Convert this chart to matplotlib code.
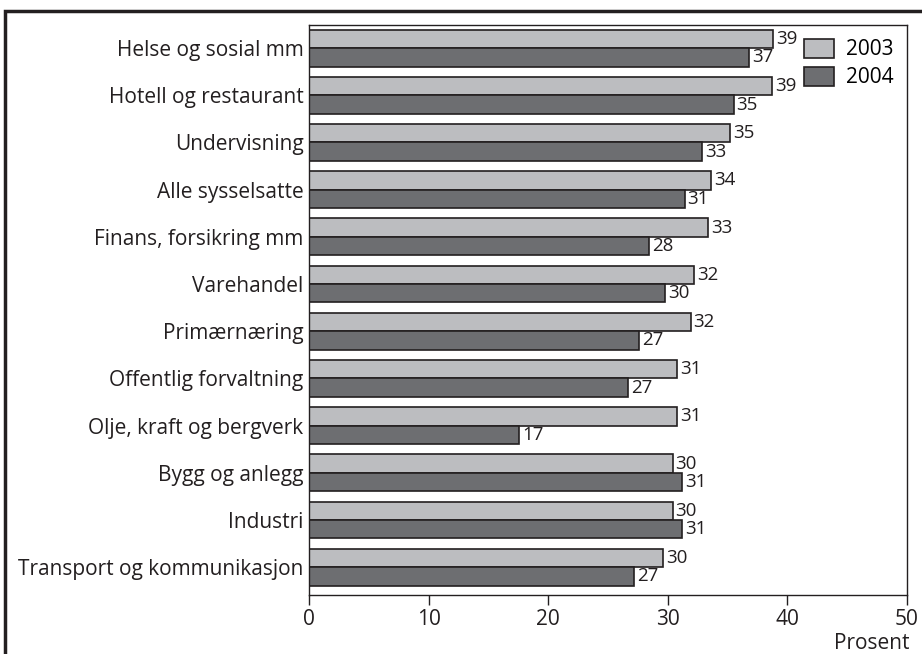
import matplotlib.pyplot as plt
import numpy as np
from matplotlib.patches import Rectangle

plt.rcParams['font.family'] = ['Open Sans', 'DejaVu Sans']

categories = ['Helse og sosial mm', 'Hotell og restaurant', 'Undervisning',
              'Alle sysselsatte', 'Finans, forsikring mm', 'Varehandel',
              'Primærnæring', 'Offentlig forvaltning', 'Olje, kraft og bergverk',
              'Bygg og anlegg', 'Industri', 'Transport og kommunikasjon']
v2003 = [38.8, 38.7, 35.2, 33.6, 33.4, 32.2, 31.9, 30.8, 30.8, 30.4, 30.4, 29.6]
v2004 = [36.8, 35.5, 32.9, 31.4, 28.4, 29.8, 27.6, 26.7, 17.6, 31.2, 31.2, 27.2]
lab2003 = [39, 39, 35, 34, 33, 32, 32, 31, 31, 30, 30, 30]
lab2004 = [37, 35, 33, 31, 28, 30, 27, 27, 17, 31, 31, 27]

c03 = '#bcbdc0'
c04 = '#6d6e71'
edge = '#231f20'

fig = plt.figure(figsize=(9.22, 6.54), dpi=100)
ax = fig.add_axes([309 / 922, 1 - 595 / 654, 598 / 922, 570 / 654])

y = np.arange(len(categories))
h = 0.39
ax.barh(y - h / 2, v2003, height=h, color=c03, edgecolor=edge, linewidth=1.2, label='2003')
ax.barh(y + h / 2, v2004, height=h, color=c04, edgecolor=edge, linewidth=1.2, label='2004')

for yy, v, l in zip(y - h / 2, v2003, lab2003):
    ax.text(v + 0.25, yy, str(l), va='center', ha='left', fontsize=13.5, color=edge)
for yy, v, l in zip(y + h / 2, v2004, lab2004):
    ax.text(v + 0.25, yy, str(l), va='center', ha='left', fontsize=13.5, color=edge)

ax.set_xlim(0, 50)
ax.set_ylim(11.59, -0.49)
ax.set_yticks(y)
ax.set_yticklabels(categories, fontsize=15, color=edge)
ax.tick_params(axis='y', length=0, pad=4)
ax.set_xticks([0, 10, 20, 30, 40, 50])
ax.tick_params(axis='x', length=7, width=1, color=edge, labelsize=15,
               labelcolor=edge, pad=3)
for s in ax.spines.values():
    s.set_color(edge)
    s.set_linewidth(1)

ax.text(1.005, -0.066, 'Prosent', transform=ax.transAxes, ha='right', va='top',
        fontsize=15, color=edge)

ax.legend(loc='upper right', bbox_to_anchor=(1.0, 1.0), frameon=False,
          fontsize=15, handlelength=1.45, handleheight=1.05,
          handletextpad=0.55, labelspacing=0.3, borderaxespad=0.25)

# heavy outer frame, cropped at right and bottom
fig.patches.append(Rectangle((5 / 922, -0.1), 1.2, 1 - 11 / 654 + 0.1,
                             transform=fig.transFigure, fill=False,
                             edgecolor=edge, linewidth=2.5, clip_on=False))

fig.savefig('out.png', dpi=100)
